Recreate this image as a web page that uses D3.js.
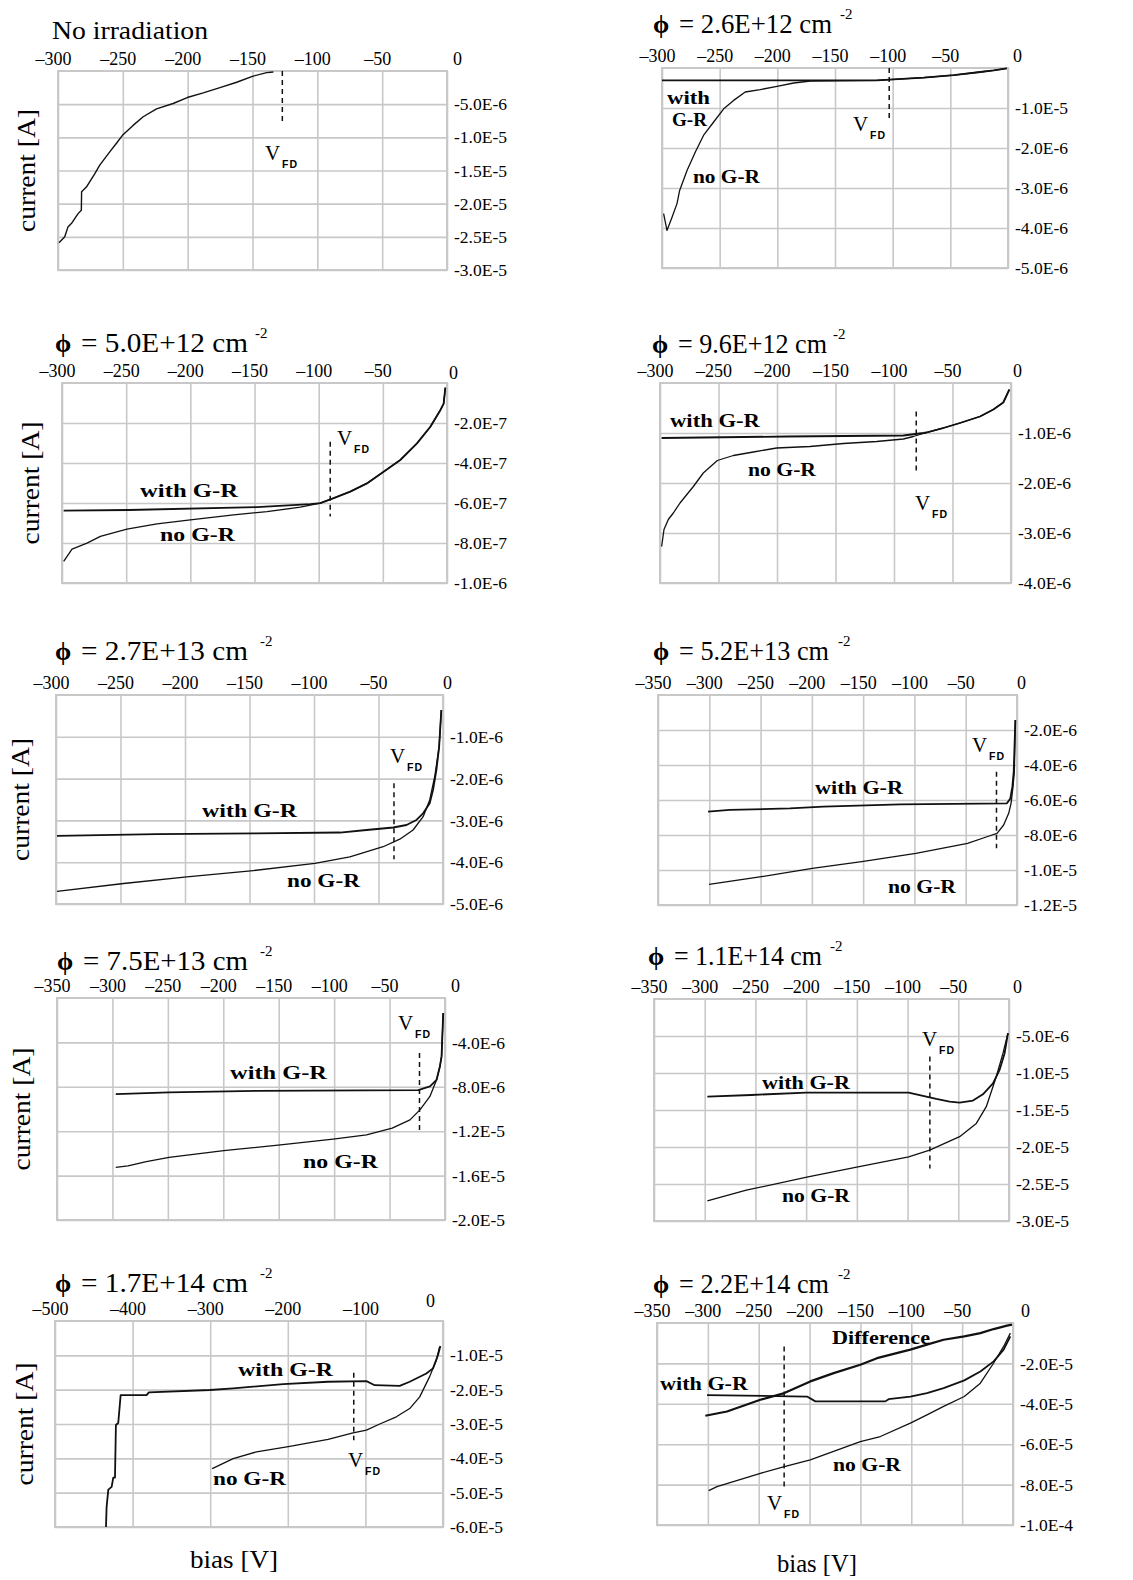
<!DOCTYPE html>
<html>
<head>
<meta charset="utf-8">
<script src="https://cdn.jsdelivr.net/npm/d3@7"></script>
<style>
  body { margin: 0; background: #fff; }
  svg { display: block; }
  text { font-family: "Liberation Serif", "Times New Roman", serif; fill: #000; }
</style>
</head>
<body>
<script>
// ---------- data: bias [V] vs. current [A] ----------

const fluenceLabels = ["2.6E+12", "5.0E+12", "9.6E+12", "2.7E+13", "5.2E+13",
                       "7.5E+13", "1.1E+14", "1.7E+14", "2.2E+14"];

const biasTicks300 = [-300, -250, -200, -150, -100, -50, 0];
const biasTicks350 = [-350, -300, -250, -200, -150, -100, -50, 0];
const biasTicks500 = [-500, -400, -300, -200, -100, 0];

const currentTicks = [
  [-5e-6, -1e-5, -1.5e-5, -2e-5, -2.5e-5, -3e-5],
  [-1e-6, -2e-6, -3e-6, -4e-6, -5e-6],
  [-2e-7, -4e-7, -6e-7, -8e-7, -1e-6],
  [-1e-6, -2e-6, -3e-6, -4e-6],
  [-1e-6, -2e-6, -3e-6, -4e-6, -5e-6],
  [-2e-6, -4e-6, -6e-6, -8e-6, -1e-5, -1.2e-5],
  [-4e-6, -8e-6, -1.2e-5, -1.6e-5, -2e-5],
  [-5e-6, -1e-5, -1.5e-5, -2e-5, -2.5e-5, -3e-5],
  [-1e-5, -2e-5, -3e-5, -4e-5, -5e-5, -6e-5],
  [-2e-5, -4e-5, -6e-5, -8e-5, -1e-4]
];
const currentTickLabels = [
  ["-5.0E-6", "-1.0E-5", "-1.5E-5", "-2.0E-5", "-2.5E-5", "-3.0E-5"],
  ["-1.0E-5", "-2.0E-6", "-3.0E-6", "-4.0E-6", "-5.0E-6"],
  ["-2.0E-7", "-4.0E-7", "-6.0E-7", "-8.0E-7", "-1.0E-6"],
  ["-1.0E-6", "-2.0E-6", "-3.0E-6", "-4.0E-6"],
  ["-1.0E-6", "-2.0E-6", "-3.0E-6", "-4.0E-6", "-5.0E-6"],
  ["-2.0E-6", "-4.0E-6", "-6.0E-6", "-8.0E-6", "-1.0E-5", "-1.2E-5"],
  ["-4.0E-6", "-8.0E-6", "-1.2E-5", "-1.6E-5", "-2.0E-5"],
  ["-5.0E-6", "-1.0E-5", "-1.5E-5", "-2.0E-5", "-2.5E-5", "-3.0E-5"],
  ["-1.0E-5", "-2.0E-5", "-3.0E-5", "-4.0E-5", "-5.0E-5", "-6.0E-5"],
  ["-2.0E-5", "-4.0E-5", "-6.0E-5", "-8.0E-5", "-1.0E-4"]
];

// full-depletion voltage and the current span of its marker
const vfdBias = [-127, -103, -91, -81, -38, -20, -23, -78, -115, -225];
const vfdSpan = [[0, -0.8e-5], [0, -1.35e-6], [-0.294e-6, -0.668e-6], [-0.57e-6, -1.8e-6],
                 [-2.11e-6, -3.93e-6], [-4.38e-6, -8.76e-6], [-4.96e-6, -11.9e-6],
                 [-7.77e-6, -22.9e-6], [-1.51e-5, -3.47e-5], [-1.16e-5, -8.26e-5]];

const noIrradiation = [[-299.2,-2.59e-5],[-294.8,-2.50e-5],[-292.3,-2.35e-5],[-289.7,-2.30e-5],
  [-284.5,-2.15e-5],[-282.0,-2.10e-5],[-281.8,-1.82e-5],[-278.1,-1.75e-5],[-271.7,-1.55e-5],
  [-267.8,-1.42e-5],[-260.1,-1.22e-5],[-254.9,-1.09e-5],[-250.3,-0.97e-5],[-242.1,-0.82e-5],
  [-234.3,-0.69e-5],[-224.0,-0.57e-5],[-211.2,-0.49e-5],[-200.3,-0.40e-5],[-188.0,-0.33e-5],
  [-175.1,-0.25e-5],[-162.2,-0.17e-5],[-150.1,-0.08e-5],[-139.1,-0.025e-5],[-133.9,-0.015e-5]];

const f26WithGR = [[-300,-0.31e-6],[-113.6,-0.31e-6],[-99.1,-0.283e-6],[-73,-0.24e-6],
  [-47,-0.18e-6],[-24,-0.10e-6],[-12.4,-0.06e-6],[-1,-0.01e-6]];
const f26NoGR = [[-298.6,-3.64e-6],[-295.7,-4.06e-6],[-291.3,-3.73e-6],[-287,-3.39e-6],
  [-284.7,-3.06e-6],[-278.3,-2.56e-6],[-271.1,-2.10e-6],[-263.9,-1.68e-6],[-255.2,-1.35e-6],
  [-246.5,-1.02e-6],[-237.9,-0.81e-6],[-227.8,-0.60e-6],[-214.8,-0.54e-6],[-200.3,-0.46e-6],
  [-185.8,-0.375e-6],[-171.4,-0.325e-6],[-113.6,-0.31e-6],[-99.1,-0.283e-6],[-73,-0.24e-6],
  [-47,-0.18e-6],[-24,-0.10e-6],[-12.4,-0.06e-6],[-1,-0.01e-6]];

const f50WithGR = [[-298.7,-0.638e-6],[-248.1,-0.635e-6],[-148.1,-0.621e-6],[-127.3,-0.613e-6],
  [-106.5,-0.606e-6],[-98.7,-0.601e-6],[-88.3,-0.576e-6],[-75.4,-0.543e-6],[-62.4,-0.502e-6],
  [-49.4,-0.444e-6],[-36.4,-0.385e-6],[-23.4,-0.302e-6],[-13.0,-0.219e-6],[-5.2,-0.136e-6],
  [-2.6,-0.103e-6],[-1.3,-0.023e-6]];
const f50NoGR = [[-298.7,-0.892e-6],[-292.2,-0.831e-6],[-280.5,-0.801e-6],[-270.1,-0.767e-6],
  [-249.4,-0.731e-6],[-226.0,-0.704e-6],[-200.0,-0.684e-6],[-166.3,-0.659e-6],[-140.3,-0.643e-6],
  [-114.3,-0.621e-6],[-98.7,-0.601e-6],[-88.3,-0.576e-6],[-75.4,-0.543e-6],[-62.4,-0.502e-6],
  [-49.4,-0.444e-6],[-36.4,-0.385e-6],[-23.4,-0.302e-6],[-13.0,-0.219e-6],[-5.2,-0.136e-6],
  [-2.6,-0.103e-6],[-1.3,-0.023e-6]];

const f96WithGR = [[-298.6,-1.10e-6],[-191.7,-1.07e-6],[-92.0,-1.05e-6],[-74.9,-1.0e-6],
  [-72.1,-0.99e-6],[-57.8,-0.90e-6],[-43.6,-0.80e-6],[-26.5,-0.67e-6],[-15.1,-0.53e-6],
  [-6.6,-0.39e-6],[-1.4,-0.13e-6]];
const f96NoGR = [[-298.6,-3.27e-6],[-296.6,-2.93e-6],[-292.9,-2.73e-6],[-288.6,-2.60e-6],
  [-282.9,-2.40e-6],[-271.5,-2.07e-6],[-263.0,-1.80e-6],[-251.0,-1.55e-6],[-237.3,-1.45e-6],
  [-220.2,-1.38e-6],[-200.3,-1.30e-6],[-171.8,-1.27e-6],[-143.3,-1.21e-6],[-114.8,-1.17e-6],
  [-92.0,-1.12e-6],[-83.5,-1.07e-6],[-72.1,-0.99e-6],[-57.8,-0.90e-6],[-43.6,-0.80e-6],
  [-26.5,-0.67e-6],[-15.1,-0.53e-6],[-6.6,-0.39e-6],[-1.4,-0.13e-6]];

const f27WithGR = [[-299.2,-3.37e-6],[-221.8,-3.33e-6],[-144.4,-3.31e-6],[-79.9,-3.29e-6],
  [-59.3,-3.23e-6],[-38.6,-3.17e-6],[-28.3,-3.11e-6],[-20.6,-2.99e-6],[-15.4,-2.83e-6],
  [-10.3,-2.59e-6],[-7.7,-2.27e-6],[-5.1,-1.79e-6],[-3.0,-1.24e-6],[-1.3,-0.36e-6]];
const f27NoGR = [[-299.2,-4.70e-6],[-247.6,-4.51e-6],[-198.6,-4.35e-6],[-147.0,-4.20e-6],
  [-99.3,-4.03e-6],[-72.2,-3.87e-6],[-46.4,-3.63e-6],[-33.5,-3.45e-6],[-23.2,-3.23e-6],
  [-15.4,-2.91e-6],[-10.3,-2.51e-6],[-6.4,-1.95e-6],[-3.0,-1.24e-6],[-1.3,-0.36e-6]];

const f52WithGR = [[-301.2,-6.67e-6],[-280.0,-6.57e-6],[-221.4,-6.48e-6],[-188.8,-6.38e-6],
  [-113.9,-6.25e-6],[-9.8,-6.19e-6],[-6.5,-5.91e-6],[-4.5,-5.24e-6],[-3.2,-4.38e-6],[-1.6,-1.43e-6]];
const f52NoGR = [[-300.2,-10.82e-6],[-249.1,-10.38e-6],[-199.6,-9.91e-6],[-151.4,-9.52e-6],
  [-98.6,-9.05e-6],[-48.2,-8.48e-6],[-29.3,-8.10e-6],[-19.5,-7.91e-6],[-13.0,-7.43e-6],
  [-8.1,-6.76e-6],[-5.8,-6.19e-6],[-3.9,-5.24e-6],[-2.6,-4.38e-6],[-1.6,-1.43e-6]];

const f75WithGR = [[-297.0,-8.66e-6],[-248.9,-8.51e-6],[-170.0,-8.36e-6],[-24.1,-8.30e-6],
  [-13.6,-7.97e-6],[-7.6,-7.37e-6],[-4.6,-6.17e-6],[-3.1,-5.26e-6],[-1.6,-1.35e-6]];
const f75NoGR = [[-297.0,-15.25e-6],[-285.9,-15.13e-6],[-269.4,-14.74e-6],[-248.9,-14.35e-6],
  [-199.6,-13.75e-6],[-148.4,-13.24e-6],[-100.9,-12.72e-6],[-70.8,-12.33e-6],[-47.6,-11.73e-6],
  [-31.6,-10.98e-6],[-22.6,-10.08e-6],[-13.6,-8.87e-6],[-7.6,-7.37e-6],[-4.6,-6.17e-6],
  [-3.1,-5.26e-6],[-1.6,-1.35e-6]];

const f110WithGR = [[-297.4,-13.19e-6],[-254.0,-12.97e-6],[-199.8,-12.65e-6],[-98.9,-12.65e-6],
  [-84.8,-13.10e-6],[-71.7,-13.51e-6],[-58.5,-13.87e-6],[-48.7,-14.01e-6],[-35.5,-13.73e-6],
  [-25.7,-12.88e-6],[-15.8,-11.39e-6],[-9.3,-9.58e-6],[-4.3,-7.32e-6],[-1.0,-4.61e-6]];
const f110NoGR = [[-297.4,-27.29e-6],[-259.0,-25.84e-6],[-198.2,-24.04e-6],[-148.9,-22.68e-6],
  [-98.9,-21.33e-6],[-78.2,-20.42e-6],[-48.7,-18.61e-6],[-32.2,-16.81e-6],[-22.4,-14.55e-6],
  [-12.5,-10.48e-6],[-5.9,-7.32e-6],[-1.0,-4.61e-6]];

const f170WithGR = [[-434.3,-60.0e-6],[-433.5,-54.2e-6],[-431.3,-49.1e-6],[-427.0,-48.3e-6],
  [-424.9,-45.6e-6],[-422.7,-45.6e-6],[-421.5,-30.3e-6],[-418.5,-29.7e-6],[-415.4,-21.6e-6],
  [-382.0,-21.6e-6],[-379.0,-20.8e-6],[-300.4,-20.1e-6],[-270.4,-19.6e-6],[-206.0,-18.4e-6],
  [-148.1,-17.7e-6],[-98.7,-17.5e-6],[-88.0,-18.7e-6],[-55.8,-18.9e-6],[-42.9,-17.7e-6],
  [-21.5,-15.3e-6],[-12.9,-13.8e-6],[-6.4,-9.9e-6],[-3.4,-7.3e-6]];
const f170NoGR = [[-297.4,-43.0e-6],[-270.4,-40.1e-6],[-240.3,-38.1e-6],[-197.4,-36.5e-6],
  [-148.1,-34.5e-6],[-115.9,-32.6e-6],[-98.7,-31.8e-6],[-81.5,-30.0e-6],[-60.1,-27.9e-6],
  [-42.9,-25.5e-6],[-30.0,-22.1e-6],[-17.2,-16.2e-6],[-8.6,-11.4e-6],[-4.3,-7.5e-6]];

const f220Difference = [[-302.5,-45.9e-6],[-281.2,-43.8e-6],[-248.4,-38.0e-6],[-224.8,-34.7e-6],
  [-199.3,-28.9e-6],[-176.3,-24.8e-6],[-150.1,-20.7e-6],[-133.7,-17.4e-6],[-100.9,-13.2e-6],
  [-84.6,-10.7e-6],[-68.2,-8.3e-6],[-47.9,-6.6e-6],[-32.1,-5.0e-6],[-19.0,-3.0e-6],
  [-5.9,-1.3e-6],[-1.0,-0.8e-6]];
const f220WithGR = [[-300.8,-35.7e-6],[-202.5,-36.4e-6],[-194.3,-38.8e-6],[-125.5,-38.8e-6],
  [-122.3,-37.7e-6],[-100.9,-36.4e-6],[-84.6,-34.7e-6],[-68.2,-32.2e-6],[-47.9,-28.4e-6],
  [-32.1,-24.0e-6],[-19.0,-19.0e-6],[-9.2,-13.2e-6],[-2.6,-6.6e-6]];
const f220NoGR = [[-299.2,-83.0e-6],[-291.0,-81.0e-6],[-248.4,-74.4e-6],[-224.8,-71.1e-6],
  [-199.3,-67.8e-6],[-150.1,-58.7e-6],[-130.4,-56.2e-6],[-100.9,-49.6e-6],[-84.6,-45.5e-6],
  [-68.2,-41.3e-6],[-47.9,-36.4e-6],[-32.1,-29.8e-6],[-19.0,-19.8e-6],[-9.2,-11.6e-6],
  [-2.6,-5.0e-6]];

// ---------- layout ----------
const WITH = 1.8, NO = 1.3;
const panels = [
  { box: [58, 447, 71, 270], xTicks: biasTicks300, zero: [10, 0],
    series: [[noIrradiation, 1.4]], v: [265, 160],
    title: { plain: "No irradiation", x: 52, y: 39, end: 208 },
    labels: [], yTitle: 27 },
  { box: [662, 1008, 68, 268], xTicks: biasTicks300, zero: [9, 0],
    series: [[f26WithGR, WITH], [f26NoGR, NO]], v: [853, 131],
    title: { x: 653, y: 33, end: 832, sup: 840 },
    labels: [["with", 667, 104, 43], ["G-R", 672, 126, 35], ["no G-R", 693, 183, 67]] },
  { box: [62, 447, 383, 583], xTicks: biasTicks300, zero: [6, 2],
    series: [[f50WithGR, WITH], [f50NoGR, NO]], v: [337, 445],
    title: { x: 55, y: 352, end: 248, sup: 255 },
    labels: [["with G-R", 140, 497, 98], ["no G-R", 160, 541, 75]], yTitle: 31 },
  { box: [660, 1011, 383, 583], xTicks: biasTicks300, zero: [6, 0],
    series: [[f96WithGR, WITH], [f96NoGR, NO]], v: [915, 510],
    title: { x: 652, y: 353, end: 827, sup: 833 },
    labels: [["with G-R", 670, 427, 90], ["no G-R", 748, 476, 68]] },
  { box: [56, 443, 695, 904], xTicks: biasTicks300, zero: [4, 0],
    series: [[f27WithGR, WITH], [f27NoGR, NO]], v: [390, 763],
    title: { x: 55, y: 660, end: 248, sup: 260 },
    labels: [["with G-R", 202, 817, 95], ["no G-R", 287, 887, 73]], yTitle: 21 },
  { box: [658, 1017, 695, 905], xTicks: biasTicks350, zero: [4, 0],
    series: [[f52WithGR, WITH], [f52NoGR, NO]], v: [972, 752],
    title: { x: 653, y: 660, end: 829, sup: 838 },
    labels: [["with G-R", 815, 794, 88], ["no G-R", 888, 893, 68]] },
  { box: [57, 445, 998, 1220], xTicks: biasTicks350, zero: [10, 0],
    series: [[f75WithGR, WITH], [f75NoGR, NO]], v: [398, 1030],
    title: { x: 57, y: 970, end: 248, sup: 260 },
    labels: [["with G-R", 230, 1079, 97], ["no G-R", 303, 1168, 75]], yTitle: 22 },
  { box: [654, 1009, 999, 1221], xTicks: biasTicks350, zero: [8, 0],
    series: [[f110WithGR, WITH], [f110NoGR, NO]], v: [922, 1046],
    title: { x: 648, y: 965, end: 822, sup: 830 },
    labels: [["with G-R", 762, 1089, 88], ["no G-R", 782, 1202, 68]] },
  { box: [55, 443, 1321, 1527], xTicks: biasTicks500, zero: [-13, -8],
    series: [[f170WithGR, WITH], [f170NoGR, NO]], v: [348, 1467],
    title: { x: 55, y: 1292, end: 248, sup: 260 },
    labels: [["with G-R", 238, 1376, 95], ["no G-R", 213, 1485, 73]], yTitle: 25,
    xTitle: [234, 1568, 88] },
  { box: [657, 1013, 1323, 1525], xTicks: biasTicks350, zero: [12, 0],
    series: [[f220Difference, 2.2], [f220WithGR, WITH], [f220NoGR, NO]], v: [767, 1510],
    title: { x: 653, y: 1293, end: 829, sup: 838 },
    labels: [["Difference", 832, 1344, 98], ["with G-R", 660, 1390, 88], ["no G-R", 833, 1471, 68]],
    xTitle: [817, 1572, 80] }
];

const svg = d3.select("body").append("svg").attr("width", 1133).attr("height", 1580);
const GRID = "#c8c8c8";

panels.forEach((p, i) => {
  const [l, r, t, b] = p.box;
  const xTicks = p.xTicks;
  const x = d3.scaleLinear().domain([xTicks[0], 0]).range([l, r]);
  const yMin = currentTicks[i][currentTicks[i].length - 1];
  const y = d3.scaleLinear().domain([yMin, 0]).range([b, t]);
  const g = svg.append("g");

  // bias axis on top, its ticks doubling as vertical grid lines
  const xa = g.append("g").attr("transform", `translate(0,${t})`)
    .call(d3.axisTop(x).tickValues(xTicks).tickSize(-(b - t)).tickPadding(6)
      .tickFormat(d => d === 0 ? "0" : "\u2013" + Math.abs(d)));
  xa.select(".domain").remove();
  xa.selectAll(".tick line").attr("stroke", GRID).attr("stroke-width", 1.6);
  xa.selectAll(".tick text").attr("font-size", 18).attr("fill", "#000")
    .attr("font-family", "Liberation Serif")
    .attr("dx", d => d === 0 ? p.zero[0] : -5)
    .attr("dy", d => d === 0 ? p.zero[1] : 0);

  // current axis on the right, ticks as horizontal grid lines
  const labels = currentTickLabels[i];
  const ya = g.append("g").attr("transform", `translate(${r},0)`)
    .call(d3.axisRight(y).tickValues(currentTicks[i]).tickSize(-(r - l)).tickPadding(7)
      .tickFormat((d, k) => labels[k]));
  ya.select(".domain").remove();
  ya.selectAll(".tick line").attr("stroke", GRID).attr("stroke-width", 1.6);
  ya.selectAll(".tick text").attr("font-size", 17.5).attr("fill", "#000")
    .attr("font-family", "Liberation Serif");

  g.append("rect").attr("x", l).attr("y", t).attr("width", r - l).attr("height", b - t)
    .attr("fill", "none").attr("stroke", GRID).attr("stroke-width", 2);

  // curves
  const line = d3.line().x(d => x(d[0])).y(d => y(d[1]));
  p.series.forEach(([data, w]) => {
    g.append("path").datum(data).attr("d", line)
      .attr("fill", "none").attr("stroke", "#111").attr("stroke-width", w)
      .attr("stroke-linejoin", "round");
  });

  // full-depletion marker
  g.append("line")
    .attr("x1", x(vfdBias[i])).attr("x2", x(vfdBias[i]))
    .attr("y1", y(vfdSpan[i][0])).attr("y2", y(vfdSpan[i][1]))
    .attr("stroke", "#111").attr("stroke-width", 1.5).attr("stroke-dasharray", "5,4");
  g.append("text").attr("x", p.v[0]).attr("y", p.v[1]).attr("font-size", 21).text("V");
  g.append("text").attr("x", p.v[0] + 17).attr("y", p.v[1] + 8)
    .attr("font-weight", "bold").attr("font-size", 10.5).attr("letter-spacing", 1)
    .style("font-family", "Liberation Sans, sans-serif")
    .text("FD");

  // title
  const tt = p.title;
  if (tt.plain) {
    g.append("text").attr("x", tt.x).attr("y", tt.y).attr("font-size", 26)
      .attr("textLength", tt.end - tt.x).attr("lengthAdjust", "spacingAndGlyphs").text(tt.plain);
  } else {
    g.append("text").attr("x", tt.x).attr("y", tt.y).attr("font-size", 26)
      .attr("font-weight", "bold").text("\u03D5");
    g.append("text").attr("x", tt.x + 26).attr("y", tt.y).attr("font-size", 27)
      .attr("textLength", tt.end - tt.x - 26).attr("lengthAdjust", "spacingAndGlyphs")
      .text("= " + fluenceLabels[i - 1] + " cm");
    g.append("text").attr("x", tt.sup).attr("y", tt.y - 14).attr("font-size", 15).text("-2");
  }

  // curve labels
  p.labels.forEach(([txt, lx, ly, lw]) => {
    g.append("text").attr("x", lx).attr("y", ly).attr("font-size", 19).attr("font-weight", "bold")
      .attr("textLength", lw).attr("lengthAdjust", "spacingAndGlyphs").text(txt);
  });

  // axis titles, centred on the plot box
  if (p.yTitle !== undefined) {
    g.append("text").attr("transform", `translate(${p.yTitle + 8},${(t + b) / 2}) rotate(-90)`)
      .attr("text-anchor", "middle").attr("font-size", 26)
      .attr("textLength", 123).attr("lengthAdjust", "spacingAndGlyphs").text("current [A]");
  }
  if (p.xTitle) {
    g.append("text").attr("x", p.xTitle[0]).attr("y", p.xTitle[1]).attr("text-anchor", "middle")
      .attr("font-size", 26).attr("textLength", p.xTitle[2]).attr("lengthAdjust", "spacingAndGlyphs")
      .text("bias [V]");
  }
});
</script>
</body>
</html>
